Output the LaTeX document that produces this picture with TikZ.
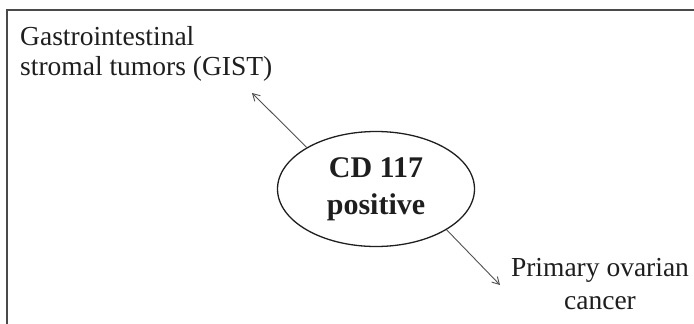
\documentclass[tikz,border=0pt]{standalone}
\usepackage{fontspec}
\setmainfont{Liberation Serif}
\usetikzlibrary{shapes.geometric,arrows.meta}
\definecolor{ink}{HTML}{1E1E1E}
\definecolor{framegray}{HTML}{4A4A4A}
\definecolor{arrgray}{HTML}{505050}
\tikzset{
  label text/.style={inner sep=0pt, text=ink, font=\fontsize{27.5}{30}\selectfont},
  hub/.style={ellipse, draw=ink, line width=1.3pt, inner sep=0pt,
    minimum width=197pt, minimum height=115pt, align=center, text=ink,
    font=\fontsize{30}{37}\selectfont\bfseries},
  arr/.style={draw=arrgray, line width=0.9pt, -{Straight Barb[length=7pt,width=8pt]}},
  frameline/.style={draw=framegray, line width=1.4pt}
}
\begin{document}
\begin{tikzpicture}[x=1pt,y=-1pt]
\useasboundingbox (0,0) rectangle (694,324);
\draw[frameline] (7,324) -- (7,10) -- (694,10);
\node[label text, anchor=north west, align=left] (gist) at (20,26)
  {Gastrointestinal\\stromal tumors (GIST)};
\node[hub] (cd) at (376,189) {CD 117\\positive};
\node[label text, anchor=north, align=center, font=\fontsize{27.5}{33}\selectfont] (ovary) at (600,258)
  {Primary ovarian\\cancer};
\coordinate (gtip) at (252,93);
\coordinate (otip) at (500,285);
\draw[arr] (cd.149) -- (gtip);
\draw[arr] (cd.-30) -- (otip);
\end{tikzpicture}
\end{document}
